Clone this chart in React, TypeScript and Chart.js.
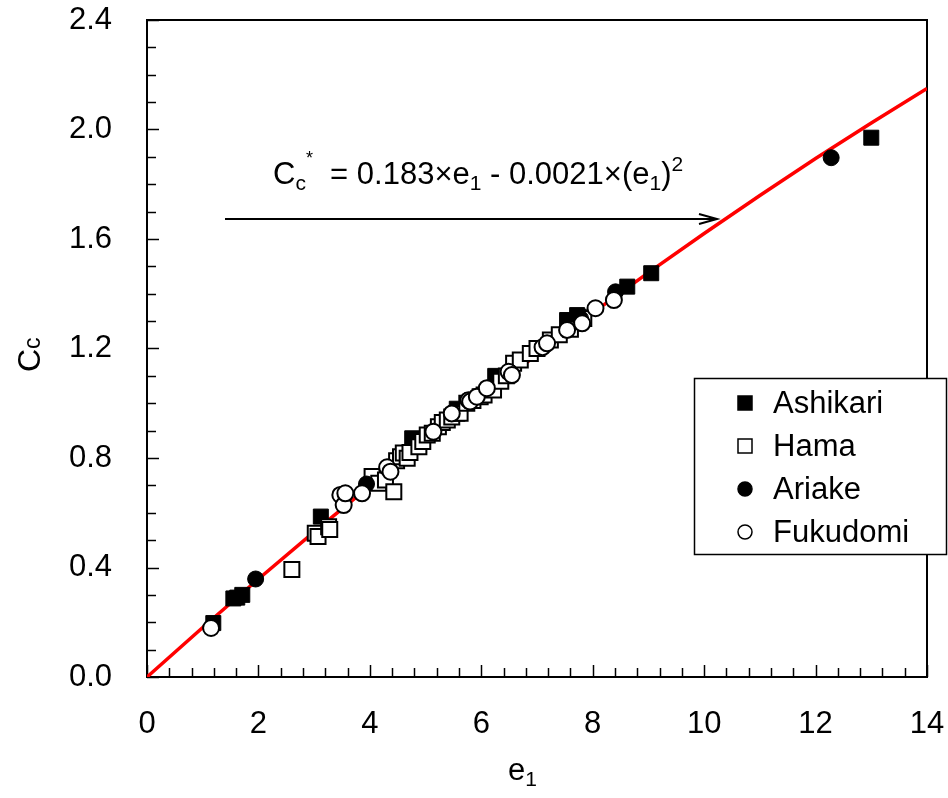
import React, { useEffect, useRef } from "react";
import { Chart, registerables } from "chart.js";
Chart.register(...registerables);

const FONT = '"Liberation Sans", Arial, Helvetica, sans-serif';

const X_TICKS = [0, 2, 4, 6, 8, 10, 12, 14];
const Y_TICKS = [0, 0.4, 0.8, 1.2, 1.6, 2.0, 2.4];
const X_MINOR_STEP = 0.4;
const Y_MINOR_STEP = 0.1;

const SERIES_NAMES = ["Ashikari", "Hama", "Ariake", "Fukudomi"];

const ASHIKARI_E = [1.19, 1.55, 1.62, 1.71, 3.12, 4.76, 5.56, 6.25, 7.54, 7.72, 7.75, 8.62, 9.05, 13.0];
const ASHIKARI_CC = [0.197, 0.287, 0.29, 0.30, 0.586, 0.872, 0.98, 1.10, 1.304, 1.322, 1.316, 1.426, 1.475, 1.97];

const HAMA_E = [2.60, 3.02, 3.07, 3.26, 3.28, 4.04, 4.16, 4.28, 4.43, 4.48, 4.55, 4.60, 4.67, 4.72, 4.88, 4.95, 5.03, 5.12, 5.23, 5.30, 5.39, 5.47, 5.56, 5.62, 5.74, 5.85, 5.98, 6.05, 6.22, 6.35, 6.45, 6.58, 6.70, 6.88, 7.00, 7.24, 7.40, 7.60, 7.84];
const HAMA_CC = [0.393, 0.525, 0.513, 0.549, 0.539, 0.732, 0.708, 0.72, 0.677, 0.79, 0.805, 0.818, 0.799, 0.82, 0.841, 0.86, 0.884, 0.89, 0.914, 0.93, 0.939, 0.95, 0.963, 0.963, 1.0, 1.01, 1.024, 1.03, 1.048, 1.08, 1.10, 1.146, 1.158, 1.182, 1.20, 1.231, 1.25, 1.27, 1.31];

const ARIAKE_E = [1.95, 3.94, 6.52, 7.78, 8.41, 12.28];
const ARIAKE_CC = [0.358, 0.705, 1.113, 1.31, 1.407, 1.897];

const FUKUDOMI_E = [1.15, 3.47, 3.53, 3.56, 3.86, 4.31, 4.37, 5.14, 5.47, 5.77, 5.80, 5.92, 6.10, 6.49, 6.55, 7.10, 7.18, 7.54, 7.81, 8.05, 8.38];
const FUKUDOMI_CC = [0.179, 0.665, 0.628, 0.671, 0.671, 0.766, 0.75, 0.896, 0.963, 1.011, 1.006, 1.024, 1.055, 1.115, 1.103, 1.205, 1.219, 1.268, 1.292, 1.347, 1.377];

// fitted curve
const FIT_E = [0, 1, 2, 3, 4, 5, 6, 7, 8, 9, 10, 11, 12, 13, 14];
const FIT_CC = [0, 0.181, 0.358, 0.530, 0.698, 0.863, 1.022, 1.178, 1.330, 1.477, 1.620, 1.759, 1.894, 2.024, 2.150];

const pts = (xs: number[], ys: number[]) => xs.map((x, i) => ({ x, y: ys[i] }));

function drawRich(ctx: CanvasRenderingContext2D, parts: { t: string; size: number; dy: number }[], x: number, y: number) {
  let cx = x;
  for (const p of parts) {
    ctx.font = `${p.size}px ${FONT}`;
    ctx.fillText(p.t, cx, y + p.dy);
    cx += ctx.measureText(p.t).width;
  }
  return cx;
}

const decorPlugin = {
  id: "decor",
  beforeDatasetsDraw(chart: any) {
    const ctx: CanvasRenderingContext2D = chart.ctx;
    const xs = chart.scales.x;
    const ys = chart.scales.y;
    const { left, right, top, bottom } = chart.chartArea;
    ctx.save();
    ctx.strokeStyle = "#000";
    ctx.lineWidth = 2;
    ctx.strokeRect(left, top, right - left, bottom - top);
    ctx.lineWidth = 1.5;
    const nx = Math.round((xs.max - xs.min) / X_MINOR_STEP);
    for (let i = 0; i <= nx; i++) {
      const v = xs.min + i * X_MINOR_STEP;
      const px = Math.round(xs.getPixelForValue(v)) + 0.5;
      const major = i % 5 === 0;
      ctx.beginPath();
      ctx.moveTo(px, bottom);
      ctx.lineTo(px, bottom - (major ? 12 : 9));
      ctx.stroke();
    }
    const ny = Math.round((ys.max - ys.min) / Y_MINOR_STEP);
    for (let i = 0; i <= ny; i++) {
      const v = ys.min + i * Y_MINOR_STEP;
      const py = Math.round(ys.getPixelForValue(v)) + 0.5;
      const major = i % 4 === 0;
      ctx.beginPath();
      ctx.moveTo(left, py);
      ctx.lineTo(left + (major ? 12 : 9), py);
      ctx.stroke();
    }
    ctx.restore();
  },
  afterDraw(chart: any) {
    const ctx: CanvasRenderingContext2D = chart.ctx;
    ctx.save();
    ctx.fillStyle = "#000";
    ctx.strokeStyle = "#000";
    ctx.textBaseline = "alphabetic";
    ctx.textAlign = "left";

    // equation
    drawRich(
      ctx,
      [
        { t: "C", size: 31, dy: 0 },
        { t: "c", size: 21, dy: 6 },
        { t: "*", size: 18, dy: -20 },
        { t: "  = 0.183×e", size: 31, dy: 0 },
        { t: "1", size: 21, dy: 6 },
        { t: " - 0.0021×(e", size: 31, dy: 0 },
        { t: "1", size: 21, dy: 6 },
        { t: ")", size: 31, dy: 0 },
        { t: "2", size: 21, dy: -13 },
      ],
      273,
      184
    );

    // arrow
    ctx.lineWidth = 2;
    ctx.beginPath();
    ctx.moveTo(225, 219);
    ctx.lineTo(716, 219);
    ctx.stroke();
    ctx.beginPath();
    ctx.moveTo(699, 214);
    ctx.lineTo(717, 219);
    ctx.lineTo(699, 224);
    ctx.stroke();

    // x title
    drawRich(
      ctx,
      [
        { t: "e", size: 31, dy: 0 },
        { t: "1", size: 21, dy: 6 },
      ],
      508,
      780
    );

    // y title (rotated)
    ctx.save();
    ctx.translate(40, 372);
    ctx.rotate(-Math.PI / 2);
    drawRich(
      ctx,
      [
        { t: "C", size: 32, dy: 0 },
        { t: "c", size: 23, dy: 0 },
      ],
      0,
      0
    );
    ctx.restore();

    // legend
    const lx = 694.5, ly = 378.5, lw = 252, lh = 176;
    ctx.fillStyle = "#fff";
    ctx.fillRect(lx, ly, lw, lh);
    ctx.lineWidth = 1.5;
    ctx.strokeRect(lx, ly, lw, lh);
    const rows = [403, 446, 489, 532];
    const mx = 745;
    ctx.font = `31px ${FONT}`;
    ctx.textBaseline = "middle";
    SERIES_NAMES.forEach((name, i) => {
      const my = rows[i];
      ctx.lineWidth = 1.5;
      ctx.strokeStyle = "#000";
      if (i === 0 || i === 1) {
        ctx.fillStyle = i === 0 ? "#000" : "#fff";
        ctx.fillRect(mx - 7, my - 7, 14, 14);
        ctx.strokeRect(mx - 7, my - 7, 14, 14);
      } else {
        ctx.fillStyle = i === 2 ? "#000" : "#fff";
        ctx.beginPath();
        ctx.arc(mx, my, 7, 0, Math.PI * 2);
        ctx.fill();
        ctx.stroke();
      }
      ctx.fillStyle = "#000";
      ctx.fillText(name, 773, my + 1);
    });
    ctx.restore();
  },
};

export default function App() {
  const ref = useRef<HTMLCanvasElement | null>(null);
  useEffect(() => {
    if (!ref.current) return;
    const chart = new Chart(ref.current, {
      type: "scatter",
      data: {
        datasets: [
          {
            label: SERIES_NAMES[3],
            data: pts(FUKUDOMI_E, FUKUDOMI_CC),
            pointStyle: "circle",
            pointRadius: 8,
            backgroundColor: "#fff",
            borderColor: "#000",
            borderWidth: 2,
            order: 0,
          },
          {
            label: SERIES_NAMES[2],
            data: pts(ARIAKE_E, ARIAKE_CC),
            pointStyle: "circle",
            pointRadius: 8,
            backgroundColor: "#000",
            borderColor: "#000",
            borderWidth: 1,
            order: 1,
          },
          {
            label: SERIES_NAMES[1],
            data: pts(HAMA_E, HAMA_CC),
            pointStyle: "rect",
            pointRadius: 10.6,
            backgroundColor: "#fff",
            borderColor: "#000",
            borderWidth: 2,
            order: 2,
          },
          {
            label: SERIES_NAMES[0],
            data: pts(ASHIKARI_E, ASHIKARI_CC),
            pointStyle: "rect",
            pointRadius: 10.6,
            backgroundColor: "#000",
            borderColor: "#000",
            borderWidth: 1,
            order: 3,
          },
          {
            type: "line",
            label: "fit",
            data: pts(FIT_E, FIT_CC),
            borderColor: "#ff0000",
            borderWidth: 3.5,
            pointRadius: 0,
            tension: 0,
            fill: false,
            order: 4,
          } as any,
        ],
      },
      options: {
        animation: false,
        responsive: false,
        layout: { padding: { left: 0, top: 20, right: 21, bottom: 0 } },
        plugins: { legend: { display: false }, tooltip: { enabled: false } },
        scales: {
          x: {
            type: "linear",
            min: 0,
            max: 14,
            afterBuildTicks: (s: any) => {
              s.ticks = X_TICKS.map((v) => ({ value: v }));
            },
            afterFit: (s: any) => {
              s.height = 121;
              s.paddingLeft = 0;
              s.paddingRight = 0;
              s.paddingTop = 0;
              s.paddingBottom = 0;
            },
            grid: { display: false, drawTicks: false },
            border: { display: false },
            ticks: {
              color: "#000",
              font: { family: FONT, size: 31 },
              padding: 29,
              maxRotation: 0,
              autoSkip: false,
              callback: (v: any) => String(v),
            },
          },
          y: {
            type: "linear",
            min: 0,
            max: 2.4,
            afterBuildTicks: (s: any) => {
              s.ticks = Y_TICKS.map((v) => ({ value: v }));
            },
            afterFit: (s: any) => {
              s.width = 147;
              s.paddingLeft = 0;
              s.paddingRight = 0;
              s.paddingTop = 0;
              s.paddingBottom = 0;
            },
            grid: { display: false, drawTicks: false },
            border: { display: false },
            ticks: {
              color: "#000",
              font: { family: FONT, size: 31 },
              padding: 35,
              autoSkip: false,
              callback: (v: any) => Number(v).toFixed(1),
            },
          },
        },
      },
      plugins: [decorPlugin],
    });
    return () => chart.destroy();
  }, []);
  return (
    <div style={{ position: "fixed", left: 0, top: 0, width: 948, height: 798, background: "#fff" }}>
      <canvas ref={ref} width={948} height={798} style={{ display: "block" }} />
    </div>
  );
}
